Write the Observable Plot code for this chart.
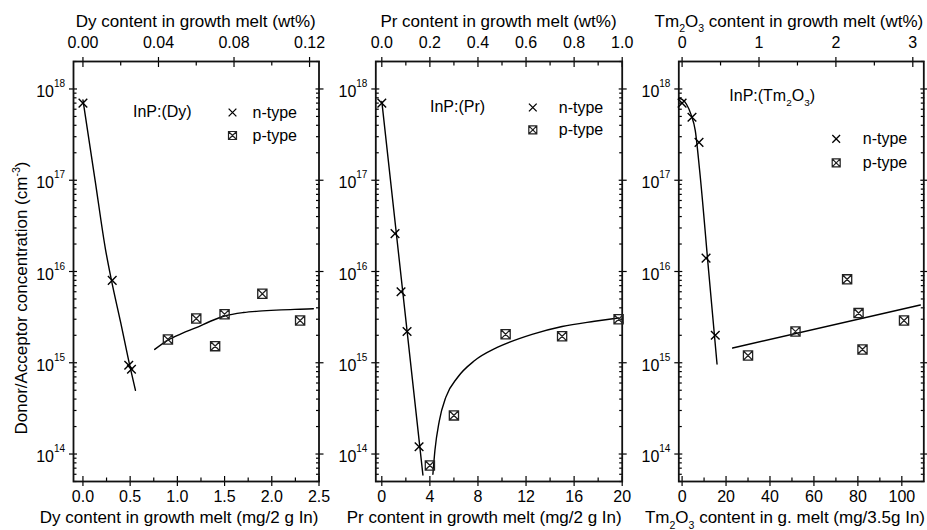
<!DOCTYPE html>
<html><head><meta charset="utf-8">
<script src="https://cdn.jsdelivr.net/npm/d3@7"></script>
<script src="https://cdn.jsdelivr.net/npm/@observablehq/plot@0.6"></script>
<style>
body{margin:0;background:#fff;}
#chart{position:relative;width:927px;height:530px;font-family:"Liberation Sans",Arial,sans-serif;}
#chart svg{position:absolute;top:0;}
</style></head><body><div id="chart"></div>
<script>
// ---------- shared y scale ----------
const yMajor = [1e14, 1e15, 1e16, 1e17, 1e18];
const yDomain = [5e13, 2e18];
const yMinorMult = [2, 3, 4, 5, 6, 7, 8, 9];

// ---------- InP:(Dy) ----------
const dyN = [[0, 7e17], [0.31, 8e15], [0.485, 9.4e14], [0.514, 8.5e14]];
const dyP = [[0.9, 1.8e15], [1.2, 3.05e15], [1.4, 1.52e15], [1.5, 3.4e15], [1.9, 5.7e15], [2.3, 2.9e15]];
const dyNFit = [[0, 7.6e17], [0.13, 9.8e16], [0.24, 1.72e16], [0.30, 8.2e15], [0.40, 2.75e15], [0.50, 8.9e14], [0.556, 5.0e14]];
const dyPFit = [[0.76, 1.4e15], [0.9, 1.77e15], [1.05, 2.1e15], [1.2, 2.43e15], [1.35, 2.85e15], [1.5, 3.25e15], [1.7, 3.55e15], [1.9, 3.7e15], [2.1, 3.8e15], [2.3, 3.86e15], [2.44, 3.9e15]];
const dyXMajor = [0, 0.5, 1, 1.5, 2, 2.5];
const dyXMinor = [0.25, 0.75, 1.25, 1.75, 2.25];
const dyTopMajor = [0, 0.04, 0.08, 0.12];
const dyTopMinor = [0.02, 0.06, 0.10];

// ---------- InP:(Pr) ----------
const prN = [[0, 7e17], [1.1, 2.6e16], [1.6, 6e15], [2.1, 2.2e15], [3.1, 1.2e14]];
const prP = [[4.0, 7.5e13], [6.0, 2.65e14], [10.3, 2.05e15], [15.0, 1.95e15], [19.7, 3.0e15]];
const prNFit = [[0, 7.3e17], [3.42, 5.9e13]];
const prPFit = [[4.25, 6.0e13], [4.42, 1.1e14], [4.78, 2.3e14], [5.33, 4.2e14], [6.3, 6.9e14], [7.7, 1.05e15], [9.6, 1.47e15], [12.5, 2.05e15], [15, 2.5e15], [17.7, 2.85e15], [19.7, 3.1e15]];
const prXMajor = [0, 4, 8, 12, 16, 20];
const prXMinor = [2, 6, 10, 14, 18];
const prTopMajor = [0, 0.2, 0.4, 0.6, 0.8, 1.0];
const prTopMinor = [0.1, 0.3, 0.5, 0.7, 0.9];

// ---------- InP:(Tm2O3) ----------
const tmN = [[0, 7e17], [4.5, 4.9e17], [7.7, 2.6e17], [10.9, 1.4e16], [15.1, 2.0e15]];
const tmP = [[30, 1.2e15], [51.6, 2.2e15], [75.1, 8.2e15], [80.3, 3.5e15], [82.1, 1.4e15], [101, 2.9e15]];
const tmNFit = [[-1.5, 7.9e17], [0, 7.7e17], [2, 6.8e17], [4, 5.3e17], [6, 3.5e17], [8, 1.27e17], [12.1, 1.0e16], [15.9, 9.7e14]];
const tmPFit = [[23, 1.45e15], [108.4, 4.3e15]];
const tmXMajor = [0, 20, 40, 60, 80, 100];
const tmXMinor = [10, 30, 50, 70, 90];
const tmTopMajor = [0, 1, 2, 3];
const tmTopMinor = [0.5, 1.5, 2.5];

// ---------- helpers ----------
const yMinor = [];
for (let e = 13; e <= 18; e++) for (const m of yMinorMult) { const v = m * 10 ** e; if (v >= yDomain[0] && v <= yDomain[1]) yMinor.push(v); }

const boxX = {
  draw(ctx, size) {
    const r = Math.sqrt(size / Math.PI);
    ctx.moveTo(-r, -r); ctx.lineTo(r, -r); ctx.lineTo(r, r); ctx.lineTo(-r, r); ctx.closePath();
    ctx.moveTo(-r, -r); ctx.lineTo(r, r); ctx.moveTo(r, -r); ctx.lineTo(-r, r);
  }
};
const FONT = '"Liberation Sans", Arial, sans-serif';
const H = 530, MT = 61, MB = 49;

function richText(svg, x, y, parts, {anchor = "start", size = 17, rotate = 0} = {}) {
  const t = d3.select(svg).append("text").attr("x", x).attr("y", y)
    .attr("text-anchor", anchor).attr("font-size", size).attr("fill", "black").attr("font-family", FONT);
  if (rotate) t.attr("transform", `rotate(${rotate},${x},${y})`);
  let shift = 0;
  for (const [s, kind] of parts) {
    const sp = t.append("tspan").text(s);
    const target = kind === "sub" ? size * 0.32 : kind === "sup" ? -size * 0.42 : 0;
    if (target !== shift) { sp.attr("dy", target - shift); shift = target; }
    if (kind) sp.attr("font-size", size * 0.62);
  }
}

function panel(c) {
  const X = d => d[0], Y = d => d[1];
  const topPos = w => w / c.wtPerMg;
  const marks = [
    // bottom axis
    Plot.axisX(c.xMajor, {anchor: "bottom", tickSize: 10, dy: -5, fill: "none", label: null, strokeWidth: 1.2}),
    Plot.axisX(c.xMinor, {anchor: "bottom", tickSize: 3.5, dy: -3.5, fill: "none", label: null, strokeWidth: 1.2}),
    Plot.axisX(c.xMajor, {anchor: "bottom", tickSize: 0, tickPadding: 9, tickFormat: c.xFmt, label: null, fontSize: 16}),
    // top axis (wt%)
    Plot.axisX(c.topMajor.map(topPos), {anchor: "top", tickSize: 10, dy: 5, fill: "none", label: null, strokeWidth: 1.2}),
    Plot.axisX(c.topMinor.map(topPos), {anchor: "top", tickSize: 3.5, dy: 3.5, fill: "none", label: null, strokeWidth: 1.2}),
    Plot.axisX(c.topMajor.map(topPos), {anchor: "top", tickSize: 0, tickPadding: 14, tickFormat: d => c.topFmt(d * c.wtPerMg), label: null, fontSize: 16}),
    // y axes
    Plot.axisY(yMajor, {anchor: "left", tickSize: 8, dx: 4, fill: "none", label: null, strokeWidth: 1.2}),
    Plot.axisY(yMinor, {anchor: "left", tickSize: 3.5, dx: 3.5, fill: "none", label: null, strokeWidth: 1.2}),
    Plot.axisY(yMajor, {anchor: "right", tickSize: 8, dx: -4, fill: "none", label: null, strokeWidth: 1.2}),
    Plot.axisY(yMinor, {anchor: "right", tickSize: 3.5, dx: -3.5, fill: "none", label: null, strokeWidth: 1.2}),
    Plot.text(yMajor, {y: d => d, frameAnchor: "left", text: () => "10", textAnchor: "end", dx: -19.5, dy: 3, fontSize: 16}),
    Plot.text(yMajor, {y: d => d, frameAnchor: "left", text: d => String(Math.round(Math.log10(d))), textAnchor: "start", dx: -19.5, dy: -5, fontSize: 10}),
    Plot.frame({stroke: "#111", strokeWidth: 1.8}),
    // fits
    Plot.line(c.nFit, {x: X, y: Y, stroke: "#000", strokeWidth: 1.4, curve: c.nCurve}),
    Plot.line(c.pFit, {x: X, y: Y, stroke: "#000", strokeWidth: 1.4, curve: c.pCurve}),
    // data
    Plot.dot(c.n, {x: X, y: Y, symbol: "times", r: 4, stroke: "#000", strokeWidth: 1.4}),
    Plot.dot(c.p, {x: X, y: Y, symbol: boxX, r: 4.6, stroke: "#222", strokeWidth: 1.3, fill: "none"}),
    // legend
    Plot.dot([0], {frameAnchor: "top-left", dx: c.lg.sx, dy: c.lg.ny, symbol: "times", r: 3.6, stroke: "#000", strokeWidth: 1.3}),
    Plot.dot([0], {frameAnchor: "top-left", dx: c.lg.sx, dy: c.lg.py, symbol: boxX, r: 4, stroke: "#222", strokeWidth: 1.2, fill: "none"}),
    Plot.text(["n-type"], {frameAnchor: "top-left", dx: c.lg.tx, dy: c.lg.ny, textAnchor: "start", lineAnchor: "middle", fontSize: 16}),
    Plot.text(["p-type"], {frameAnchor: "top-left", dx: c.lg.tx, dy: c.lg.py, textAnchor: "start", lineAnchor: "middle", fontSize: 16})
  ];
  const svg = Plot.plot({
    width: c.width, height: H,
    marginLeft: c.ml, marginRight: c.mr, marginTop: MT, marginBottom: MB,
    x: {domain: c.xDomain, axis: null},
    y: {type: "log", domain: yDomain, axis: null},
    style: {overflow: "visible", background: "transparent", fontFamily: FONT, fontSize: "16px", color: "#000"},
    marks
  });
  svg.style.left = c.left + "px";
  const fl = c.ml, fr = c.width - c.mr;
  // legend title
  richText(svg, fl + c.lg.titleX, MT + c.lg.titleY, c.legendTitle, {size: 16});
  // top title
  const topX = c.topAnchor === "end" ? fr : (fl + fr) / 2;
  richText(svg, topX, 26.7, c.topTitle, {anchor: c.topAnchor, size: 17});
  // bottom title
  richText(svg, fr + c.botShift, 523.3, c.botTitle, {anchor: "end", size: 17});
  return svg;
}

const chart = document.getElementById("chart");

const p1 = panel({
  left: 0, width: 321, ml: 73, mr: 2.5, xDomain: [-0.1, 2.5],
  xMajor: dyXMajor, xMinor: dyXMinor, xFmt: d => d.toFixed(1),
  topMajor: dyTopMajor, topMinor: dyTopMinor, wtPerMg: 0.05, topFmt: w => w.toFixed(2),
  n: dyN, p: dyP, nFit: dyNFit, pFit: dyPFit, nCurve: "monotone-x", pCurve: "monotone-x",
  lg: {titleX: 60, titleY: 56, sx: 159, tx: 179, ny: 51, py: 74},
  legendTitle: [["InP:(Dy)"]],
  topTitle: [["Dy content in growth melt (wt%)"]], topAnchor: "middle",
  botTitle: [["Dy content in growth melt (mg/2 g In)"]], botShift: 0
});
const p2 = panel({
  left: 321, width: 303, ml: 54.3, mr: 2.3, xDomain: [-0.5, 20],
  xMajor: prXMajor, xMinor: prXMinor, xFmt: d => String(d),
  topMajor: prTopMajor, topMinor: prTopMinor, wtPerMg: 0.05, topFmt: w => w.toFixed(1),
  n: prN, p: prP, nFit: prNFit, pFit: prPFit, nCurve: "linear", pCurve: "monotone-x",
  lg: {titleX: 54.7, titleY: 51, sx: 157, tx: 183, ny: 46, py: 68.3},
  legendTitle: [["InP:(Pr)"]],
  topTitle: [["Pr content in growth melt (wt%)"]], topAnchor: "middle",
  botTitle: [["Pr content in growth melt (mg/2 g In)"]], botShift: 0
});
const p3 = panel({
  left: 624, width: 303, ml: 54.3, mr: 3.7, xDomain: [-1.5, 110],
  xMajor: tmXMajor, xMinor: tmXMinor, xFmt: d => String(d),
  topMajor: tmTopMajor, topMinor: tmTopMinor, wtPerMg: 1 / 35, topFmt: w => String(Math.round(w)),
  n: tmN, p: tmP, nFit: tmNFit, pFit: tmPFit, nCurve: "monotone-x", pCurve: "linear",
  lg: {titleX: 51, titleY: 40, sx: 157.4, tx: 184, ny: 77.3, py: 101.3},
  legendTitle: [["InP:(Tm"], ["2", "sub"], ["O"], ["3", "sub"], [")"]],
  topTitle: [["Tm"], ["2", "sub"], ["O"], ["3", "sub"], [" content in growth melt (wt%)"]], topAnchor: "end",
  botTitle: [["Tm"], ["2", "sub"], ["O"], ["3", "sub"], [" content in g. melt (mg/3.5g In)"]], botShift: 1.7
});
chart.append(p1, p2, p3);

// y-axis title on first panel
richText(p1, 27, 298, [["Donor/Acceptor concentration (cm"], ["-3", "sup"], [")"]], {anchor: "middle", size: 17, rotate: -90});
</script></body></html>
